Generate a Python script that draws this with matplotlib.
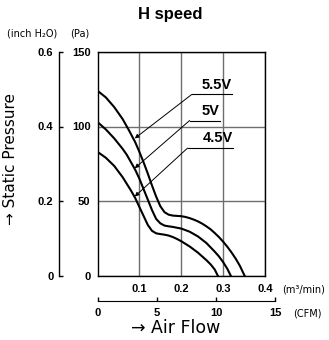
import matplotlib
matplotlib.use("Agg")
import matplotlib.pyplot as plt

plt.rcParams['font.family'] = ['Liberation Sans', 'DejaVu Sans']

# dados (vazao m3/min, pressao Pa)
flow_55 = [0, 0.02, 0.04, 0.06, 0.075, 0.09, 0.10, 0.11, 0.12, 0.13, 0.14, 0.15, 0.16, 0.17,
           0.18, 0.19, 0.20, 0.21, 0.22, 0.23, 0.24, 0.25, 0.26, 0.27, 0.28, 0.29, 0.30,
           0.31, 0.32, 0.33, 0.34, 0.351]
pa_55 = [124, 119.5, 113, 105, 97.5, 89.5, 83, 76, 68.5, 60.5, 53, 46.5, 42.5, 40.8,
         40.2, 40, 39.8, 39.3, 38.5, 37.5, 36.3, 34.8, 33, 31, 28.5, 25.8, 22.7,
         19.3, 15.5, 11.3, 6.5, 0]

flow_50 = [0, 0.02, 0.04, 0.06, 0.07, 0.08, 0.09, 0.10, 0.11, 0.12, 0.13, 0.14, 0.15, 0.16,
           0.17, 0.18, 0.20, 0.22, 0.24, 0.26, 0.28, 0.29, 0.30, 0.31, 0.318]
pa_50 = [103, 98, 92, 85, 81, 76, 71, 65, 58, 51, 44, 38, 35, 33.5,
         33, 32.6, 31.5, 29.4, 26.2, 21.8, 16, 12.8, 9, 4.5, 0]

flow_45 = [0, 0.02, 0.04, 0.06, 0.07, 0.08, 0.09, 0.10, 0.11, 0.12, 0.13, 0.14, 0.15, 0.16,
           0.17, 0.18, 0.19, 0.20, 0.22, 0.24, 0.26, 0.27, 0.28, 0.287]
pa_45 = [83, 79, 73.5, 66, 61.5, 57, 52, 46, 40, 34, 30, 28.3, 27.8, 27.4,
         26.8, 25.8, 24.5, 23, 19.5, 15.3, 10.3, 7.5, 4, 0]

voltagens = ['5.5V', '5V', '4.5V']
pa_ticks = [0, 50, 100, 150]
inch_ticks = [0, 0.2, 0.4, 0.6]
inch_labels = ['0', '0.2', '0.4', '0.6']
m3_ticks = [0.1, 0.2, 0.3, 0.4]
m3_labels = ['0.1', '0.2', '0.3', '0.4']
cfm_ticks = [0, 5, 10, 15]

W, H = 329, 340
fig = plt.figure(figsize=(W / 100, H / 100), dpi=100)

def fx(px):
    return px / W

def fy(py):
    return 1 - py / H

x0, x1, y0, y1 = 97.5, 265, 52, 275.5
ax = fig.add_axes([fx(x0), fy(y1), fx(x1 - x0), (y1 - y0) / H])
ax.set_xlim(0, 0.4)
ax.set_ylim(0, 150)

for f, p in [(flow_55, pa_55), (flow_50, pa_50), (flow_45, pa_45)]:
    ax.plot(f, p, color='black', lw=1.5, zorder=3, solid_joinstyle='round')

ax.set_xticks(m3_ticks)
ax.set_xticklabels(m3_labels, fontsize=8, fontweight='bold')
ax.set_yticks(pa_ticks)
ax.set_yticklabels([str(t) for t in pa_ticks], fontsize=8, fontweight='bold')
ax.tick_params(axis='both', length=0)
ax.tick_params(axis='x', pad=6)
ax.tick_params(axis='y', pad=5)
ax.grid(True, color='#6e6e6e', lw=1)
for s in ax.spines.values():
    s.set_linewidth(1)

# rotulos com seta (inicio da linha, fim da linha, ponta da seta)
rot = [((0.225, 121.5), (0.32, 121.5), (0.089, 92)),
       ((0.220, 104), (0.292, 104), (0.089, 72)),
       ((0.215, 85.5), (0.323, 85.5), (0.089, 53))]
for nome, (ini, fim, ponta) in zip(voltagens, rot):
    ax.plot([ini[0], fim[0]], [ini[1], fim[1]], color='black', lw=0.8, zorder=4)
    ax.annotate('', xy=ponta, xytext=ini,
                arrowprops=dict(arrowstyle='-|>', lw=0.7, color='black',
                                mutation_scale=6, shrinkA=0, shrinkB=0))
    ax.text(fim[0], ini[1] + 1.8, nome, ha='right', va='bottom', fontsize=10.5,
            fontweight='bold', zorder=5)

# eixo inch H2O
sec = ax.secondary_yaxis((59 - x0) / (x1 - x0), functions=(lambda v: v / 250, lambda v: v * 250))
sec.set_yticks(inch_ticks)
sec.set_yticklabels(inch_labels, fontsize=8, fontweight='bold')
sec.tick_params(direction='in', length=3, pad=4, width=1)
sec.spines['left'].set_linewidth(1)

# eixo CFM
cfm_w = (x1 - x0) * (15 / 35.3147) / 0.4
axc = fig.add_axes([fx(x0), fy(300.7), fx(cfm_w), 0.001])
axc.set_xlim(0, 15)
axc.set_yticks([])
for k in ['top', 'left', 'right']:
    axc.spines[k].set_visible(False)
axc.patch.set_visible(False)
axc.set_xticks(cfm_ticks)
axc.set_xticklabels([str(t) for t in cfm_ticks], fontsize=8, fontweight='bold')
axc.tick_params(axis='x', direction='in', length=3, pad=5, width=1)

fig.text(fx(170), fy(15), 'H speed', ha='center', va='center', fontsize=12, fontweight='bold')
pequeno = dict(fontsize=7, family='DejaVu Sans', va='center', ha='left')
fig.text(fx(7), fy(34), '(inch H\u2082O)', **pequeno)
fig.text(fx(70), fy(34), '(Pa)', **pequeno)
fig.text(fx(282), fy(290), '(m\u00b3/min)', **pequeno)
fig.text(fx(293), fy(313), '(CFM)', **pequeno)
fig.text(fx(176), fy(328), '\u2192 Air Flow', ha='center', va='center', fontsize=12.5,
         family='DejaVu Sans')
fig.text(fx(11), fy(159), '\u2192 Static Pressure', ha='center', va='center', fontsize=11,
         rotation=90, family='DejaVu Sans')

fig.savefig('out.png', dpi=100)
